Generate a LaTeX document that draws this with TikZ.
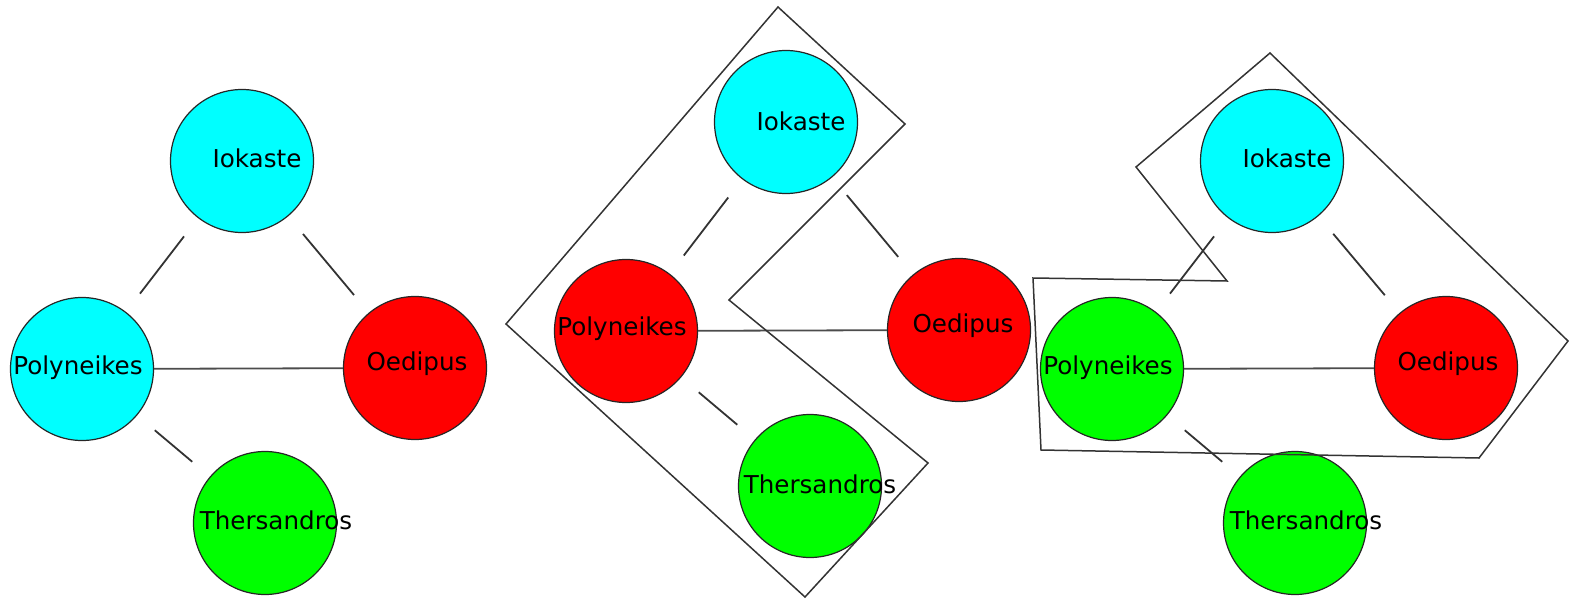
\documentclass[tikz,border=0pt]{standalone}
\usepackage{fontspec}
\setmainfont{DejaVu Sans}
\definecolor{aqua}{RGB}{0,255,255}
\definecolor{lime}{RGB}{0,255,0}
\definecolor{scarlet}{RGB}{255,0,0}
\begin{document}
\begin{tikzpicture}[x=1pt, y=-1pt,
  person/.style={circle, draw=black!85, line width=1.2pt, minimum size=143pt, inner sep=0pt},
  who/.style={font=\fontsize{24.6}{28}\selectfont, inner sep=0pt},
  gap/.style={draw=black!80, line width=1.8pt, shorten <=23pt, shorten >=23pt},
  tie/.style={draw=black!70, line width=1.8pt},
  ring/.style={draw=black!80, line width=1.5pt, line join=miter}]
\useasboundingbox (0,0) rectangle (1570,599);

% left
\node[person, fill=aqua] (i1) at (242,161) {};
\node[person, fill=aqua] (p1) at (82,369) {};
\node[person, fill=scarlet] (o1) at (415,368) {};
\node[person, fill=lime] (t1) at (265,523) {};
\node[who, xshift=15pt, yshift=3pt] (i1t) at (i1) {Iokaste};
\node[who, xshift=-4pt, yshift=1pt] (p1t) at (p1) {Polyneikes};
\node[who, xshift=2pt, yshift=4pt] (o1t) at (o1) {Oedipus};
\node[who, xshift=11pt, yshift=3pt] (t1t) at (t1) {Thersandros};
\draw[gap] (i1) -- (p1);
\draw[gap] (i1) -- (o1);
\draw[gap] (p1) -- (t1);
\draw[tie] (p1) -- (o1);

% middle
\node[person, fill=aqua] (i2) at (786,122) {};
\node[person, fill=scarlet] (p2) at (626,331) {};
\node[person, fill=scarlet] (o2) at (959,330) {};
\node[person, fill=lime] (t2) at (810,486) {};
\node[who, xshift=15pt, yshift=1pt] (i2t) at (i2) {Iokaste};
\node[who, xshift=-4pt, yshift=2pt] (p2t) at (p2) {Polyneikes};
\node[who, xshift=4pt, yshift=4pt] (o2t) at (o2) {Oedipus};
\node[who, xshift=10pt, yshift=2pt] (t2t) at (t2) {Thersandros};
\draw[gap] (i2) -- (p2);
\draw[gap] (i2) -- (o2);
\draw[gap] (p2) -- (t2);
\draw[tie] (p2) -- (o2);
\draw[ring] (778,7) -- (905,124) -- (729,300) -- (928,463) -- (805,597)
  -- (506,324) -- cycle;

% right
\node[person, fill=aqua] (i3) at (1272,161) {};
\node[person, fill=lime] (p3) at (1112,369) {};
\node[person, fill=scarlet] (o3) at (1446,368) {};
\node[person, fill=lime] (t3) at (1295,523) {};
\node[who, xshift=15pt, yshift=3pt] (i3t) at (i3) {Iokaste};
\node[who, xshift=-4pt, yshift=1pt] (p3t) at (p3) {Polyneikes};
\node[who, xshift=2pt, yshift=4pt] (o3t) at (o3) {Oedipus};
\node[who, xshift=11pt, yshift=3pt] (t3t) at (t3) {Thersandros};
\draw[gap] (i3) -- (p3);
\draw[gap] (i3) -- (o3);
\draw[gap] (p3) -- (t3);
\draw[tie] (p3) -- (o3);
\draw[ring] (1270,53) -- (1568,341) -- (1479,458) -- (1041,450) -- (1033,278)
  -- (1227,281) -- (1136,167) -- cycle;
\end{tikzpicture}
\end{document}
